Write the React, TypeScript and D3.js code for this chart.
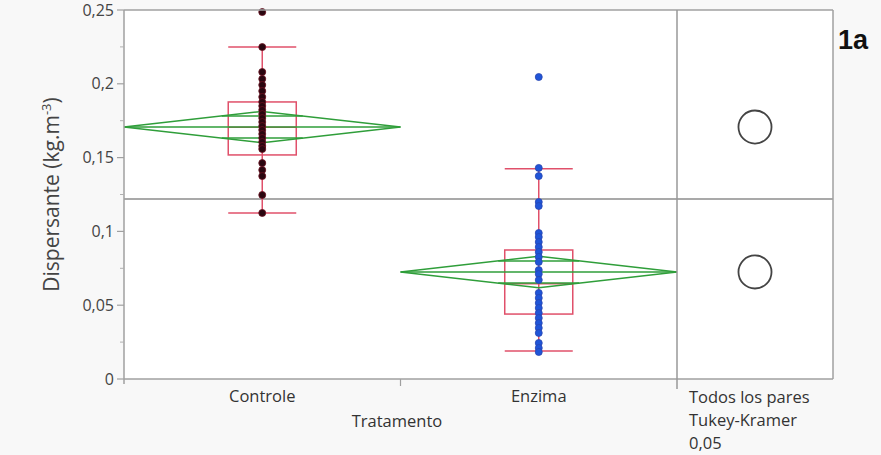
import { scaleBand, scaleLinear, line } from "d3";

const categories = ["Controle", "Enzima"];
const controleValues = [
  0.2486, 0.2249, 0.208, 0.2033, 0.1992, 0.1951, 0.1911, 0.1877, 0.185, 0.1823, 0.1795, 0.1768,
  0.1741, 0.1714, 0.1687, 0.166, 0.1633, 0.1606, 0.1579, 0.1558, 0.1463, 0.1416, 0.1375, 0.1247,
  0.1125,
];
const enzimaValues = [
  0.2046, 0.143, 0.1375, 0.1199, 0.1172, 0.0989, 0.0962, 0.0928, 0.0894, 0.086, 0.0827, 0.0793,
  0.0738, 0.0711, 0.0671, 0.0583, 0.0549, 0.0515, 0.0481, 0.0447, 0.0413, 0.0379, 0.0346, 0.0312,
  0.0244, 0.021, 0.0183,
];
// summary stats
const means = [0.1707, 0.0725];
const ciHalf = [0.0106, 0.0106];
const q1 = [0.1518, 0.0440];
const medians = [0.1705, 0.0645];
const q3 = [0.1877, 0.0874];
const whiskerLow = [0.1125, 0.0190];
const whiskerHigh = [0.2250, 0.1425];
const grandMean = 0.122;
const circleRadius = 0.0112;
const yTicks = [0, 0.05, 0.1, 0.15, 0.2, 0.25];
const yMinorTicks = [0.025, 0.075, 0.125, 0.175, 0.225];
const compareLabels = ["Todos los pares", "Tukey-Kramer", "0,05"];

const W = 881;
const H = 455;
const left = 124;
const top = 10;
const bottom = 379;
const mainRight = 677;
const panelRight = 833;
const font = "'Open Sans', 'Noto Sans', sans-serif";

export default function App() {
  const y = scaleLinear().domain([0, 0.25]).range([bottom, top]);
  const x = scaleBand<string>().domain(categories).range([left, mainRight]).padding(0);
  const bw = x.bandwidth();
  const boxW = bw * 0.246;
  const panelCx = (mainRight + panelRight) / 2;
  const series = [controleValues, enzimaValues];
  const dotColors = ["#2a0710", "#1f55d8"];
  const dotStroke = ["#6b1020", "#2a45b0"];
  const pathGen = line<[number, number]>();
  const fmt = (v: number) => String(v).replace(".", ",");

  return (
    <div style={{ position: "absolute", left: 0, top: 0 }}>
      <svg width={W} height={H} style={{ display: "block", background: "#f8f8f8" }}>
        <rect x={left} y={top} width={panelRight - left} height={bottom - top} fill="#ffffff" />

        {/* grand mean line */}
        <line x1={left} x2={panelRight} y1={y(grandMean)} y2={y(grandMean)} stroke="#8c8c8c" strokeWidth={1.5} />

        {categories.map((c, i) => {
          const x0 = x(c) ?? 0;
          const cx = x0 + bw / 2;
          const m = means[i];
          const h = ciHalf[i];
          const ov = h / Math.SQRT2;
          const ovHalfW = (bw / 2) * (1 - ov / h);
          const diamond: [number, number][] = [
            [x0, y(m)],
            [cx, y(m + h)],
            [x0 + bw, y(m)],
            [cx, y(m - h)],
            [x0, y(m)],
          ];
          return (
            <g key={c}>
              {/* whiskers */}
              <line x1={cx} x2={cx} y1={y(whiskerHigh[i])} y2={y(whiskerLow[i])} stroke="#e0506a" strokeWidth={1.5} />
              <line x1={cx - boxW / 2} x2={cx + boxW / 2} y1={y(whiskerHigh[i])} y2={y(whiskerHigh[i])} stroke="#e0506a" strokeWidth={1.5} />
              <line x1={cx - boxW / 2} x2={cx + boxW / 2} y1={y(whiskerLow[i])} y2={y(whiskerLow[i])} stroke="#e0506a" strokeWidth={1.5} />
              <rect
                x={cx - boxW / 2}
                y={y(q3[i])}
                width={boxW}
                height={y(q1[i]) - y(q3[i])}
                fill="none"
                stroke="#e0506a"
                strokeWidth={1.5}
              />
              <line x1={cx - boxW / 2} x2={cx + boxW / 2} y1={y(medians[i])} y2={y(medians[i])} stroke="#e0506a" strokeWidth={1.5} />
              {/* mean diamond */}
              <path d={pathGen(diamond) ?? ""} fill="none" stroke="#2f9e3a" strokeWidth={1.5} />
              <line x1={x0} x2={x0 + bw} y1={y(m)} y2={y(m)} stroke="#2f9e3a" strokeWidth={1.5} />
              <line x1={cx - ovHalfW} x2={cx + ovHalfW} y1={y(m + ov)} y2={y(m + ov)} stroke="#2f9e3a" strokeWidth={1.5} />
              <line x1={cx - ovHalfW} x2={cx + ovHalfW} y1={y(m - ov)} y2={y(m - ov)} stroke="#2f9e3a" strokeWidth={1.5} />
              {series[i].map((v, j) => (
                <circle key={j} cx={cx} cy={y(v)} r={3.5} fill={dotColors[i]} stroke={dotStroke[i]} strokeWidth={0.8} />
              ))}
              {/* comparison circle */}
              <circle
                cx={panelCx}
                cy={y(m)}
                r={y(0) - y(circleRadius)}
                fill="none"
                stroke="#444"
                strokeWidth={1.8}
              />
            </g>
          );
        })}

        {/* frame */}
        <line x1={left} x2={panelRight} y1={top} y2={top} stroke="#a0a0a0" strokeWidth={1.5} />
        <line x1={panelRight} x2={panelRight} y1={top} y2={bottom} stroke="#a0a0a0" strokeWidth={1.5} />
        <line x1={left} x2={panelRight} y1={bottom} y2={bottom} stroke="#a0a0a0" strokeWidth={1.5} />
        <line x1={mainRight} x2={mainRight} y1={top} y2={bottom + 10} stroke="#999" strokeWidth={1.5} />
        <line x1={left} x2={left} y1={top} y2={bottom + 5} stroke="#a0a0a0" strokeWidth={1.5} />
        <line x1={left + bw} x2={left + bw} y1={bottom} y2={bottom + 7} stroke="#a0a0a0" strokeWidth={1.2} />

        {/* y axis */}
        {yTicks.map((t) => (
          <g key={t}>
            <line x1={left - 7} x2={left} y1={y(t)} y2={y(t)} stroke="#a0a0a0" strokeWidth={1.2} />
            <text
              x={left - 10}
              y={y(t)}
              dy="0.35em"
              textAnchor="end"
              fontFamily={font}
              fontSize={16}
              fill="#444"
            >
              {fmt(t)}
            </text>
          </g>
        ))}
        {yMinorTicks.map((t) => (
          <line key={t} x1={left - 4} x2={left} y1={y(t)} y2={y(t)} stroke="#b0b0b0" strokeWidth={1} />
        ))}
        <text
          transform={`translate(52,${(top + bottom) / 2}) rotate(-90)`}
          textAnchor="middle"
          dy="0.35em"
          fontFamily={font}
          fontSize={21}
          fill="#444"
        >
          Dispersante (kg.m<tspan dy="-8" fontSize={13}>-3</tspan>
          <tspan dy="8">)</tspan>
        </text>

        {/* x axis labels */}
        {categories.map((c) => (
          <text
            key={c}
            x={(x(c) ?? 0) + bw / 2}
            y={396}
            dy="0.35em"
            textAnchor="middle"
            fontFamily={font}
            fontSize={16.5}
            fill="#333"
          >
            {c}
          </text>
        ))}
        <text x={397} y={421} dy="0.35em" textAnchor="middle" fontFamily={font} fontSize={16.5} fill="#333">
          Tratamento
        </text>
        {compareLabels.map((t, i) => (
          <text key={t} x={689} y={397 + i * 23} dy="0.35em" fontFamily={font} fontSize={16.5} fill="#333">
            {t}
          </text>
        ))}
        <text x={838} y={49} fontFamily="'Liberation Sans', Arial, sans-serif" fontWeight="bold" fontSize={27} fill="#111">
          1a
        </text>
      </svg>
    </div>
  );
}
